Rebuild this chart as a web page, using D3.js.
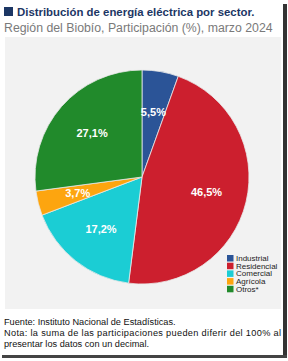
<!DOCTYPE html>
<html>
<head>
<meta charset="utf-8">
<script src="https://cdn.jsdelivr.net/npm/d3@7"></script>
<style>
  body { margin: 0; background: #fff; }
  svg { display: block; font-family: "Liberation Sans", Arial, sans-serif; }
</style>
</head>
<body>
<div id="chart"></div>
<script>
// datos del grafico
var sectors = ["Industrial", "Residencial", "Comercial", "Agrícola", "Otros*"];
var shares = [5.5, 46.5, 17.2, 3.7, 27.1];
var colors = ["#2b5497", "#cc1f2e", "#1bcdd4", "#fda50f", "#218a2b"];

var W = 288, H = 361;
var svg = d3.select("#chart").append("svg").attr("width", W).attr("height", H);

// marco con sombra
svg.append("rect").attr("x", 283).attr("y", 4).attr("width", 4).attr("height", 354).attr("fill", "#333");
svg.append("rect").attr("x", 2).attr("y", 355).attr("width", 285).attr("height", 3).attr("fill", "#444");

// titulo
svg.append("rect").attr("x", 4).attr("y", 7).attr("width", 9).attr("height", 9).attr("fill", "#1c3664");
svg.append("text").attr("x", 17).attr("y", 16)
  .attr("font-size", "11.4px").attr("font-weight", "bold").attr("fill", "#1c3664")
  .text("Distribución de energía eléctrica por sector.");
svg.append("text").attr("x", 4).attr("y", 31.5)
  .attr("font-size", "12.3px").attr("fill", "#7a7a7a")
  .text("Región del Biobío, Participación (%), marzo 2024");

// panel gris
svg.append("rect").attr("x", 5).attr("y", 37).attr("width", 276).attr("height", 272).attr("fill", "#f2f2f2");

var cx = 142, cy = 177, r = 107;
var pie = d3.pie().sort(null).value(function(d) { return d; });
var arc = d3.arc().innerRadius(0).outerRadius(r);
var labelArc = d3.arc().innerRadius(r * 0.62).outerRadius(r * 0.62);

var g = svg.append("g").attr("transform", "translate(" + cx + "," + cy + ")");
var arcs = pie(shares);

g.selectAll("path").data(arcs).enter().append("path")
  .attr("d", arc)
  .attr("fill", function(d, i) { return colors[i]; })
  .attr("stroke", "#e8e8e8")
  .attr("stroke-width", 0.8);

g.selectAll("text").data(arcs).enter().append("text")
  .attr("transform", function(d) { return "translate(" + labelArc.centroid(d) + ")"; })
  .attr("text-anchor", "middle").attr("dy", "0.35em")
  .attr("font-size", "11px").attr("font-weight", "bold").attr("fill", "#fff")
  .text(function(d) { return String(d.data.toFixed(1)).replace(".", ",") + "%"; });

// leyenda
var legend = svg.append("g").attr("transform", "translate(227,255)");
var item = legend.selectAll("g").data(sectors).enter().append("g")
  .attr("transform", function(d, i) { return "translate(0," + (i * 7.7) + ")"; });
item.append("rect").attr("width", 6.5).attr("height", 6.5)
  .attr("fill", function(d, i) { return colors[i]; });
item.append("text").attr("x", 9).attr("y", 6)
  .attr("font-size", "8px").attr("fill", "#222").text(function(d) { return d; });

// notas
var notes = svg.append("g").attr("font-size", "9.2px").attr("fill", "#111");
notes.append("text").attr("x", 4).attr("y", 325).text("Fuente: Instituto Nacional de Estadísticas.");
notes.append("text").attr("x", 4).attr("y", 336).attr("textLength", 277).attr("lengthAdjust", "spacing")
  .text("Nota:  la suma de las participaciones pueden diferir del 100% al");
notes.append("text").attr("x", 4).attr("y", 347).text("presentar los datos con un decimal.");
</script>
</body>
</html>
